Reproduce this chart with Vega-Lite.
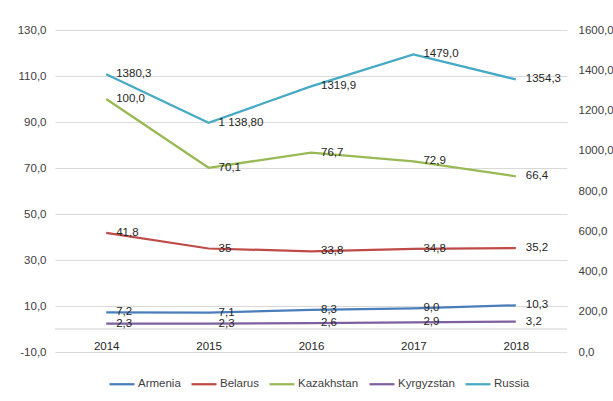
{
  "$schema": "https://vega.github.io/schema/vega-lite/v6.json",
  "width": 512,
  "height": 322,
  "autosize": {"type": "none"},
  "padding": {"left": 55, "top": 30, "right": 46, "bottom": 49},
  "background": "white",
  "config": {
    "view": {"stroke": null},
    "font": "Liberation Sans",
    "locale": {"number": {"decimal": ",", "thousands": " ", "grouping": [3], "currency": ["", ""], "minus": "-"}},
    "axis": {"labelFont": "Liberation Sans", "labelFontSize": 11.5, "labelColor": "#404040", "domain": false, "ticks": false, "title": null},
    "legend": {"labelFont": "Liberation Sans", "labelFontSize": 11.5, "labelColor": "#404040"}
  },
  "datasets": {
    "main": [
      {"year": "2014", "country": "Armenia", "value": 7.2, "label": "7,2"},
      {"year": "2015", "country": "Armenia", "value": 7.1, "label": "7,1"},
      {"year": "2016", "country": "Armenia", "value": 8.3, "label": "8,3"},
      {"year": "2017", "country": "Armenia", "value": 9.0, "label": "9,0"},
      {"year": "2018", "country": "Armenia", "value": 10.3, "label": "10,3"},
      {"year": "2014", "country": "Belarus", "value": 41.8, "label": "41,8"},
      {"year": "2015", "country": "Belarus", "value": 35, "label": "35"},
      {"year": "2016", "country": "Belarus", "value": 33.8, "label": "33,8"},
      {"year": "2017", "country": "Belarus", "value": 34.8, "label": "34,8"},
      {"year": "2018", "country": "Belarus", "value": 35.2, "label": "35,2"},
      {"year": "2014", "country": "Kazakhstan", "value": 100.0, "label": "100,0"},
      {"year": "2015", "country": "Kazakhstan", "value": 70.1, "label": "70,1"},
      {"year": "2016", "country": "Kazakhstan", "value": 76.7, "label": "76,7"},
      {"year": "2017", "country": "Kazakhstan", "value": 72.9, "label": "72,9"},
      {"year": "2018", "country": "Kazakhstan", "value": 66.4, "label": "66,4"},
      {"year": "2014", "country": "Kyrgyzstan", "value": 2.3, "label": "2,3"},
      {"year": "2015", "country": "Kyrgyzstan", "value": 2.3, "label": "2,3"},
      {"year": "2016", "country": "Kyrgyzstan", "value": 2.6, "label": "2,6"},
      {"year": "2017", "country": "Kyrgyzstan", "value": 2.9, "label": "2,9"},
      {"year": "2018", "country": "Kyrgyzstan", "value": 3.2, "label": "3,2"},
      {"year": "2014", "country": "Russia", "value": 1380.3, "label": "1380,3"},
      {"year": "2015", "country": "Russia", "value": 1138.8, "label": "1 138,80"},
      {"year": "2016", "country": "Russia", "value": 1319.9, "label": "1319,9"},
      {"year": "2017", "country": "Russia", "value": 1479.0, "label": "1479,0"},
      {"year": "2018", "country": "Russia", "value": 1354.3, "label": "1354,3"}
    ],
    "zero": [{"z": 0}]
  },
  "resolve": {"scale": {"y": "independent"}},
  "layer": [
    {
      "layer": [
        {
          "data": {"name": "zero"},
          "mark": {"type": "rule", "color": "#D0D0D0", "strokeWidth": 1},
          "encoding": {
            "y": {"field": "z", "type": "quantitative", "scale": {"domain": [-10, 130], "nice": false, "zero": false},
              "axis": {"orient": "left", "values": [-10, 10, 30, 50, 70, 90, 110, 130], "format": ".1f", "grid": true, "gridColor": "#D9D9D9", "labelPadding": 9, "labelExpr": "replace(datum.label, '\u2212', '-')"}}
          }
        },
        {
          "data": {"name": "main"},
          "transform": [{"filter": "datum.country !== 'Russia'"}],
          "mark": {"type": "line", "strokeWidth": 2.25},
          "encoding": {
            "x": {"field": "year", "type": "ordinal", "scale": {"type": "point", "padding": 0.5},
              "axis": {"orient": "bottom", "labelAngle": 0, "labelPadding": -12, "grid": false, "labelColor": "#262626"}},
            "y": {"field": "value", "type": "quantitative"},
            "color": {"field": "country", "type": "nominal",
              "scale": {"domain": ["Armenia", "Belarus", "Kazakhstan", "Kyrgyzstan", "Russia"], "range": ["#4A7EBB", "#BE4B48", "#98B954", "#7D60A0", "#46AAC5"]},
              "legend": {"orient": "none", "legendX": 53, "legendY": 340, "direction": "horizontal", "title": null, "symbolType": "stroke", "symbolSize": 625, "symbolStrokeWidth": 2.25, "labelOffset": 2, "columnPadding": 6}}
          }
        },
        {
          "data": {"name": "main"},
          "transform": [{"filter": "datum.country !== 'Russia'"}],
          "mark": {"type": "text", "align": "left", "baseline": "middle", "dx": 10, "fontSize": 11.5, "color": "#262626"},
          "encoding": {
            "x": {"field": "year", "type": "ordinal"},
            "y": {"field": "value", "type": "quantitative"},
            "text": {"field": "label"}
          }
        }
      ]
    },
    {
      "data": {"name": "main"},
      "transform": [{"filter": "datum.country === 'Russia'"}],
      "layer": [
        {
          "mark": {"type": "line", "strokeWidth": 2.25},
          "encoding": {
            "x": {"field": "year", "type": "ordinal"},
            "y": {"field": "value", "type": "quantitative", "scale": {"domain": [0, 1600], "nice": false},
              "axis": {"orient": "right", "values": [0, 200, 400, 600, 800, 1000, 1200, 1400, 1600], "format": ".1f", "grid": false, "labelPadding": 11}},
            "color": {"field": "country", "type": "nominal"}
          }
        },
        {
          "mark": {"type": "text", "align": "left", "baseline": "middle", "dx": 10, "fontSize": 11.5, "color": "#262626"},
          "encoding": {
            "x": {"field": "year", "type": "ordinal"},
            "y": {"field": "value", "type": "quantitative"},
            "text": {"field": "label"}
          }
        }
      ]
    }
  ]
}
